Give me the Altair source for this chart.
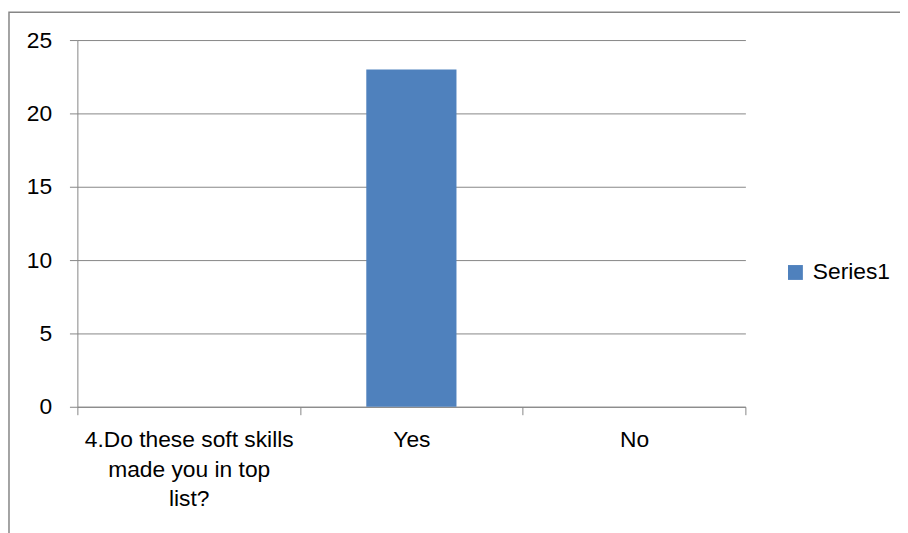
import altair as alt
import pandas as pd

categories = ["4.Do these soft skills|made you in top|list?", "Yes", "No"]
values = [0, 23, 0]
series_name = ["Series1", "Series1", "Series1"]
y_ticks = [0, 5, 10, 15, 20, 25]

df = pd.DataFrame({"cat": categories, "value": values, "series": series_name})

FONT = "Liberation Sans"
GRAY = "#868686"

bars = alt.Chart(df).mark_bar(width=alt.RelativeBandSize(0.405)).encode(
    x=alt.X(
        "cat:N",
        sort=categories,
        scale=alt.Scale(domain=categories, paddingInner=0, paddingOuter=0),
        axis=alt.Axis(
            title=None,
            labelAngle=0,
            labelExpr="split(datum.label, '|')",
            labelFont=FONT,
            labelFontSize=23,
            labelColor="#000000",
            labelLineHeight=30,
            labelPadding=14,
            labelLimit=400,
            tickBand="extent",
            tickSize=8,
            tickColor=GRAY,
            domainColor=GRAY,
            grid=False,
        ),
    ),
    y=alt.Y(
        "value:Q",
        scale=alt.Scale(domain=[0, 25], nice=False),
        axis=alt.Axis(
            title=None,
            values=y_ticks,
            labelFont=FONT,
            labelFontSize=23,
            labelColor="#000000",
            labelPadding=18,
            tickSize=8,
            tickColor=GRAY,
            domainColor=GRAY,
            gridColor=GRAY,
            gridWidth=1,
            gridOpacity=1,
        ),
    ),
    color=alt.Color(
        "series:N",
        scale=alt.Scale(range=["#4F81BD"]),
        legend=alt.Legend(
            title=None,
            orient="none",
            legendX=713,
            legendY=223,
            padding=0,
            symbolType="square",
            symbolSize=225,
            symbolStrokeWidth=0,
            labelFont=FONT,
            labelFontSize=23,
            labelColor="#000000",
            labelOffset=6,
        ),
    ),
)

border_df = pd.DataFrame({"k": [0]})
border = alt.Chart(border_df).mark_rect(
    fillOpacity=0, stroke=GRAY, strokeWidth=1.5
).encode(
    x=alt.value(-69), x2=alt.value(840), y=alt.value(-28), y2=alt.value(510)
)

chart = alt.layer(border, bars).properties(
    width=674,
    height=370,
    padding={"left": 70, "top": 30, "right": 156, "bottom": 125},
    autosize=alt.AutoSizeParams(type="none"),
    background="white",
).configure_view(stroke=None)

chart.save("out.html", embed_options={"renderer": "svg", "actions": False})
